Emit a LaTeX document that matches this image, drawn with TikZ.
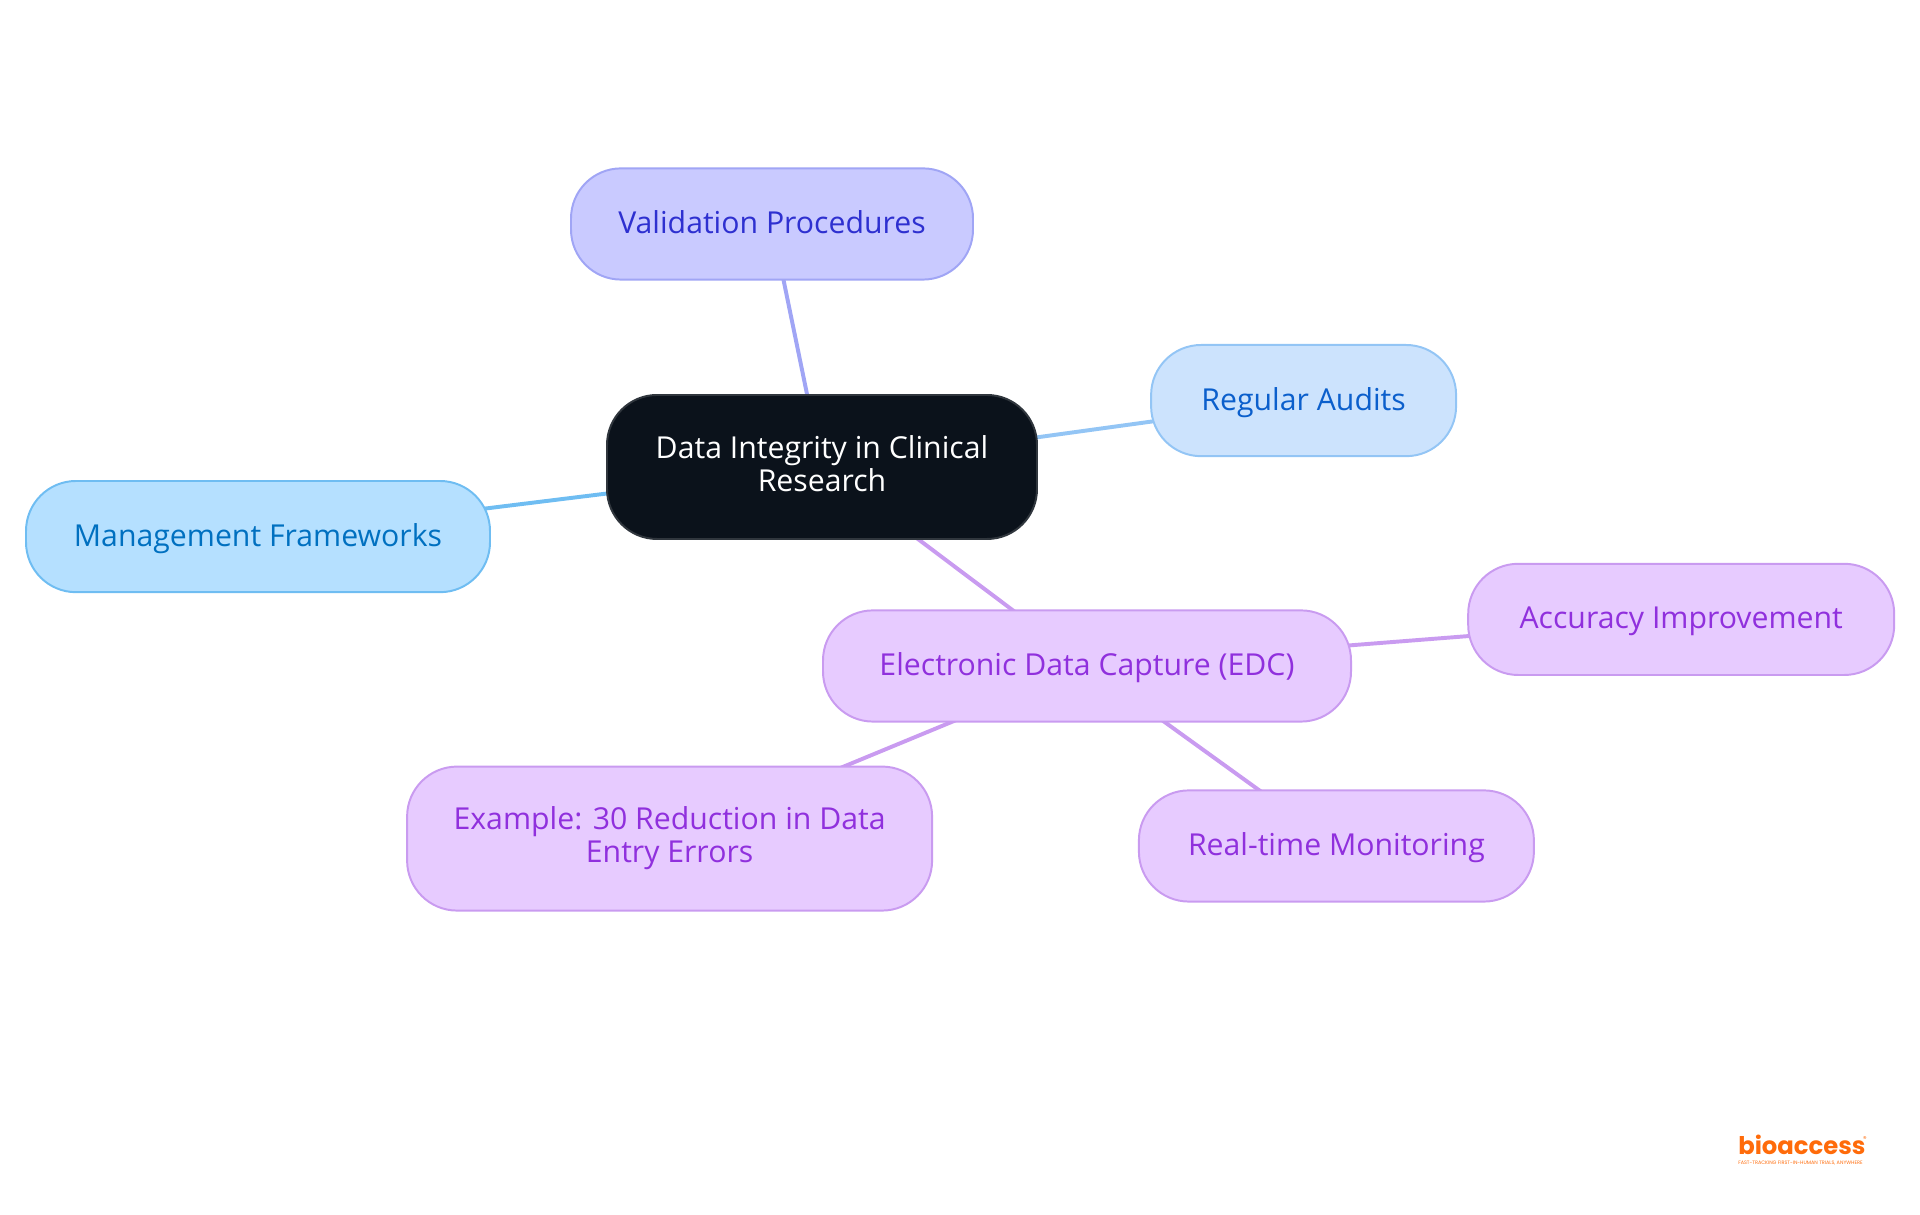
\documentclass[tikz,border=0pt]{standalone}
\usepackage{fontspec}
\setmainfont{Open Sans}
\newfontfamily\logofont{Poppins}
\usetikzlibrary{backgrounds}
\definecolor{indigofill}{HTML}{C9CAFF}
\definecolor{indigoline}{HTML}{A0A5F5}
\definecolor{indigotext}{HTML}{2E30D0}
\definecolor{bluefill}{HTML}{CCE3FD}
\definecolor{blueline}{HTML}{93C5F5}
\definecolor{bluetext}{HTML}{0B5FCC}
\definecolor{skyfill}{HTML}{B5E0FF}
\definecolor{skyline}{HTML}{6FBDF2}
\definecolor{skytext}{HTML}{0070C0}
\definecolor{purplefill}{HTML}{E7CBFF}
\definecolor{purpleline}{HTML}{C99BF0}
\definecolor{purpletext}{HTML}{9030DD}
\definecolor{darkfill}{HTML}{0B121B}
\definecolor{darkline}{HTML}{30363D}
\definecolor{logoorange}{HTML}{FF6B0A}
\begin{document}
\begin{tikzpicture}[line cap=round,line join=round,x=1cm,y=1cm,
	box/.style={draw,line width=1.4pt,rounded corners=1.25cm,inner sep=0pt,align=center,minimum height=2.78cm,font=\fontsize{21.5}{23.5}\selectfont,execute at begin node={\rule{0pt}{19pt}},execute at end node={\rule[-5.6pt]{0pt}{5.6pt}}},
	twolines/.style={minimum height=3.6cm,execute at begin node={\rule{0pt}{21.5pt}}},
	rootbox/.style={box,fill=darkfill,draw=darkline,text=white},
	indigobox/.style={box,fill=indigofill,draw=indigoline,text=indigotext},
	bluebox/.style={box,fill=bluefill,draw=blueline,text=bluetext},
	skybox/.style={box,fill=skyfill,draw=skyline,text=skytext},
	purplebox/.style={box,fill=purplefill,draw=purpleline,text=purpletext},
	link/.style={line width=2.8pt,line cap=butt}]
	\useasboundingbox (0,0) rectangle (48,30.375);
	\node[rootbox,twolines,minimum width=10.75cm] (root) at (20.55,18.7) {Data Integrity in Clinical\\Research};
	\node[indigobox,minimum width=10.05cm] (valid) at (19.3,24.775) {Validation Procedures};
	\node[bluebox,minimum width=7.625cm] (audits) at (32.59,20.36) {Regular Audits};
	\node[skybox,minimum width=11.6cm] (frame) at (6.45,16.96) {Management Frameworks};
	\node[purplebox,minimum width=13.2cm] (edc) at (27.175,13.725) {Electronic Data Capture (EDC)};
	\node[purplebox,minimum width=10.65cm] (accur) at (42.03,14.89) {Accuracy Improvement};
	\node[purplebox,minimum width=9.875cm] (monit) at (33.41,9.225) {Real-time Monitoring};
	\node[purplebox,twolines,minimum width=13.125cm] (examp) at (16.74,9.41) {Example: 30 Reduction in Data\\Entry Errors};
	\begin{scope}[on background layer]
		\draw[link,indigoline] (root.center)--(valid.center);
		\draw[link,blueline] (root.center)--(audits.center);
		\draw[link,skyline] (root.center)--(frame.center);
		\draw[link,purpleline] (root.center)--(edc.center);
		\draw[link,purpleline] (edc.center)--(accur.center);
		\draw[link,purpleline] (edc.center)--(monit.center);
		\draw[link,purpleline] (edc.center)--(examp.center);
	\end{scope}
	\node[text=logoorange,inner sep=0pt,anchor=base west,font=\logofont\bfseries\fontsize{17.3}{17.3}\selectfont] (logo) at (43.45,1.5) {bioaccess};
	\node[text=logoorange,inner sep=0pt,anchor=base west,font=\logofont\fontsize{3.5}{3.5}\selectfont] (tagline) at (43.45,1.25) {FAST-TRACKING FIRST-IN-HUMAN TRIALS, ANYWHERE};
	\node[text=logoorange,inner sep=0pt,font=\logofont\fontsize{5}{5}\selectfont] (regmark) at (46.62,1.9) {®};
\end{tikzpicture}
\end{document}
